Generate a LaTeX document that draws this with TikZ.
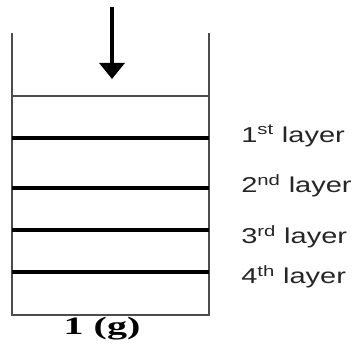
\documentclass[tikz,border=0pt]{standalone}
\usepackage{fontspec}
\setmainfont{Liberation Serif}
\newfontfamily\labfont{Liberation Sans}
\usetikzlibrary{arrows.meta}
\tikzset{
  wall/.style={draw=black!70, line width=1.5pt},
  thinlayer/.style={draw=black!70, line width=1.3pt},
  thicklayer/.style={draw=black, line width=4pt},
  lab/.style={anchor=west, inner sep=0pt, xscale=1.35, font=\labfont\fontsize{21.5}{24}\selectfont, text=black!85},
  press/.style={draw=black, line width=3.2pt, -{Triangle[width=25pt,length=16pt]}}
}
\begin{document}
\begin{tikzpicture}[x=1pt,y=-1pt]
\useasboundingbox (0,0) rectangle (353,350);
\coordinate (tl) at (12,33);
\coordinate (tr) at (209,33);
\coordinate (bl) at (12,315);
\coordinate (br) at (209,315);
\draw[wall] (tl) -- (bl) -- (br) -- (tr);
\coordinate (s0l) at (12,96);  \coordinate (s0r) at (209,96);
\draw[thinlayer] (s0l) -- (s0r);
\coordinate (s1l) at (12,138); \coordinate (s1r) at (209,138);
\coordinate (s2l) at (12,188); \coordinate (s2r) at (209,188);
\coordinate (s3l) at (12,230); \coordinate (s3r) at (209,230);
\coordinate (s4l) at (12,272); \coordinate (s4r) at (209,272);
\draw[thicklayer] (s1l) -- (s1r);
\draw[thicklayer] (s2l) -- (s2r);
\draw[thicklayer] (s3l) -- (s3r);
\draw[thicklayer] (s4l) -- (s4r);
\coordinate (atop) at (112,7);
\coordinate (atip) at (112,79);
\draw[press] (atop) -- (atip);
\node[lab] (l1) at (241,136) {1\textsuperscript{st} layer};
\node[lab] (l2) at (241,186) {2\textsuperscript{nd} layer};
\node[lab] (l3) at (241,237) {3\textsuperscript{rd} layer};
\node[lab] (l4) at (241,277) {4\textsuperscript{th} layer};
\node[inner sep=0pt, xscale=1.6, font=\bfseries\fontsize{25}{28}\selectfont] (g) at (102,329) {1 (g)};
\end{tikzpicture}
\end{document}
